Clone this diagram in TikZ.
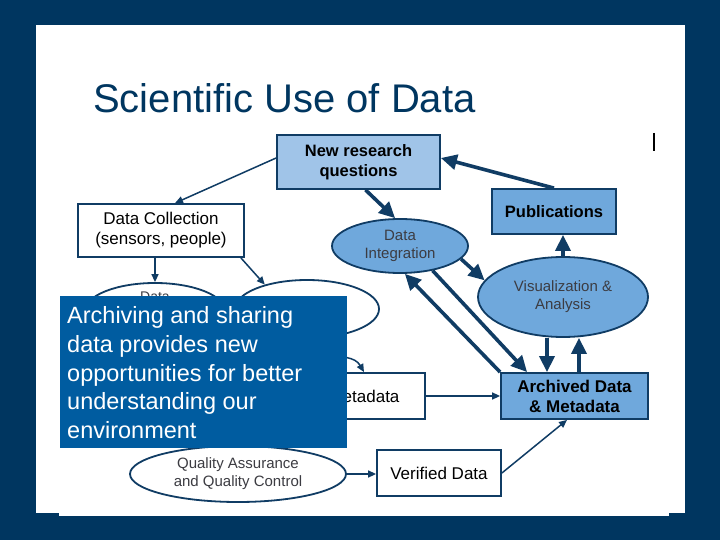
\documentclass[tikz,border=0pt]{standalone}
\usepackage{fontspec}
\setmainfont{Liberation Sans}
\usetikzlibrary{shapes.geometric,arrows.meta}
\definecolor{bgnavy}{RGB}{0,54,96}
\definecolor{lnavy}{RGB}{16,60,100}
\definecolor{lightfill}{RGB}{160,196,232}
\definecolor{midfill}{RGB}{111,168,220}
\definecolor{callout}{RGB}{0,92,160}
\definecolor{elltext}{RGB}{60,60,66}
\tikzset{
  boxnode/.style={draw=lnavy, line width=1.8pt, inner sep=0pt, align=center, font=\fontsize{17}{20}\selectfont},
  ellnode/.style={ellipse, draw=lnavy, line width=1.8pt, inner sep=0pt, align=center, text=elltext, font=\fontsize{15}{18}\selectfont},
  thkarrow/.style={draw=lnavy, line width=3.6pt, -{Triangle[length=16pt,width=15pt]}},
  thnarrow/.style={draw=lnavy, line width=1.5pt, -{Triangle[length=8pt,width=7pt]}},
}
\begin{document}
\begin{tikzpicture}[x=1pt,y=-1pt]
\useasboundingbox (0,0) rectangle (720,540);
\fill[bgnavy] (0,0) rectangle (720,540);
\fill[white] (36,25) rectangle (685,513);
\fill[white] (59,512) rectangle (669,516);

\node[anchor=base west, text=bgnavy, font=\fontsize{40}{48}\selectfont, inner sep=0pt] (title) at (93,113) {Scientific Use of Data};

\draw[black, line width=1.4pt] (654,133) -- (654,151);

% nodes
\node[boxnode, fill=lightfill, minimum width=163pt, minimum height=54pt, font=\bfseries\fontsize{16.5}{20}\selectfont] (nrq) at (358.5,162) {New research\\questions};
\node[boxnode, fill=midfill, minimum width=124pt, minimum height=45pt, font=\bfseries\fontsize{16.5}{20}\selectfont] (pub) at (554,211.5) {Publications};
\node[ellnode, fill=midfill, minimum width=136pt, minimum height=54pt] (di) at (400,246) {Data\\Integration};
\node[ellnode, fill=midfill, minimum width=170pt, minimum height=80pt] (va) at (563,297) {Visualization \&\\Analysis};
\node[boxnode, fill=midfill, minimum width=147pt, minimum height=46pt, font=\bfseries\fontsize{17}{20}\selectfont] (arch) at (574.5,396) {Archived Data\\\& Metadata};
\node[boxnode, fill=white, minimum width=166pt, minimum height=53pt] (dc) at (161,230.5) {Data Collection\\(sensors, people)};
\node[ellnode, fill=white, minimum width=140pt, minimum height=56pt] (de) at (155,311) {};
\node[text=elltext, font=\fontsize{14}{17}\selectfont, inner sep=0pt] (detext) at (155,297) {Data};
\node[ellnode, fill=white, minimum width=144pt, minimum height=58pt] (e2) at (307,309) {};
\node[boxnode, fill=white, minimum width=122pt, minimum height=46pt] (meta) at (364,396) {Metadata};
\node[ellnode, fill=white, minimum width=216pt, minimum height=56pt] (qa) at (238,474) {Quality Assurance\\and Quality Control};
\node[boxnode, fill=white, minimum width=124pt, minimum height=46pt] (vd) at (439,473) {Verified Data};

% thick connectors
\draw[thkarrow] ([xshift=7pt]nrq.south) -- (di.100);
\draw[thkarrow] (pub.north) -- ([yshift=4pt]nrq.east);
\draw[thkarrow] ([xshift=9pt]pub.south |- va.north) -- ([xshift=9pt]pub.south);
\draw[thkarrow] (di.-12) -- (va.168);
\draw[thkarrow] (arch.north west) -- (di.-80);
\draw[thkarrow] (di.-37) -- ([xshift=27pt]arch.north west);
\draw[thkarrow] ([xshift=-16pt]va.south) -- ([xshift=-27.5pt]arch.north);
\draw[thkarrow] ([xshift=4.5pt]arch.north) -- ([xshift=16pt]va.south);

% thin connectors
\draw[thnarrow] ([yshift=4pt]nrq.west) -- ([xshift=14pt]dc.north);
\draw[thnarrow] ([xshift=-6pt]dc.south) -- (de.north);
\draw[thnarrow] ([xshift=-4pt]dc.south east) -- (e2.150);
\draw[thnarrow] (e2.255) to[out=-80,in=120] (meta.north);
\draw[thnarrow] (meta.east) -- (arch.west);
\draw[thnarrow] (vd.east) -- ([xshift=-7.5pt]arch.south);
\draw[thnarrow] (qa.east) -- (qa.east -| vd.west);

% callout
\node[fill=callout, minimum width=287pt, minimum height=152pt, inner sep=0pt] (co) at (203.5,372) {};
\node[anchor=north west, text=white, align=left, inner sep=0pt, font=\fontsize{23.5}{28.7}\selectfont] (cotext) at (67,306.5) {Archiving and sharing\\data provides new\\opportunities for better\\understanding our\\environment};
\end{tikzpicture}
\end{document}
